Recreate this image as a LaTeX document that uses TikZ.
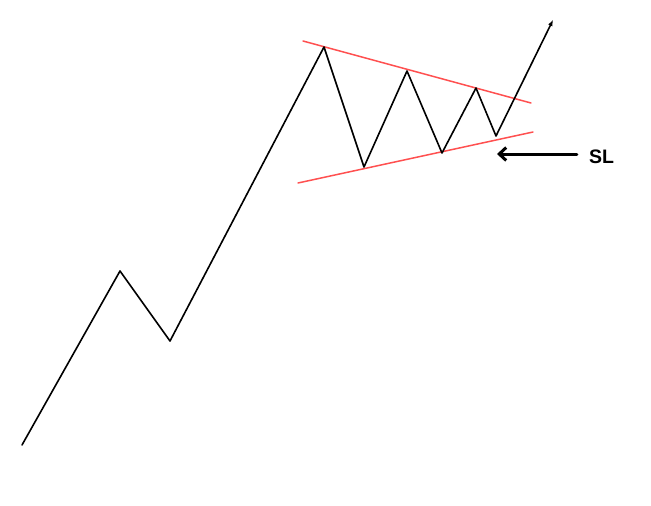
\documentclass[tikz,border=0pt]{standalone}
\usepackage{fontspec}
\setmainfont{Liberation Sans}
\usetikzlibrary{arrows.meta}
\definecolor{trend}{RGB}{255,80,80}
\begin{document}
\begin{tikzpicture}[x=1pt, y=-1pt, line join=round, line cap=round, >=stealth,
	price/.style={line width=1.6pt, black},
	trendline/.style={line width=1.5pt, trend}]
	\useasboundingbox (0,0) rectangle (651,506);
	\coordinate (A) at (22,445);
	\coordinate (B) at (120,271);
	\coordinate (C) at (170,341);
	\coordinate (D) at (324,47);
	\coordinate (E) at (364,167);
	\coordinate (F) at (407,71);
	\coordinate (G) at (442,153);
	\coordinate (H) at (476,88);
	\coordinate (I) at (496,136);
	\coordinate (J) at (553,20);
	\draw[trendline] (303,41)--(531,103);
	\draw[trendline] (298,183)--(533,132);
	\draw[price,-{Latex[length=6pt,width=5pt]}] (A)--(B)--(C)--(D)--(E)--(F)--(G)--(H)--(I)--(J);
	\node[font=\bfseries\fontsize{19.5}{22}\selectfont, inner sep=0pt] (sl) at (601.5,157) {SL};
	\coordinate (slend) at (497,154);
	\draw[line width=3pt, -{Straight Barb[length=7pt,width=13pt]}] ([xshift=-12pt,yshift=3pt]sl.west)--(slend);
\end{tikzpicture}
\end{document}
